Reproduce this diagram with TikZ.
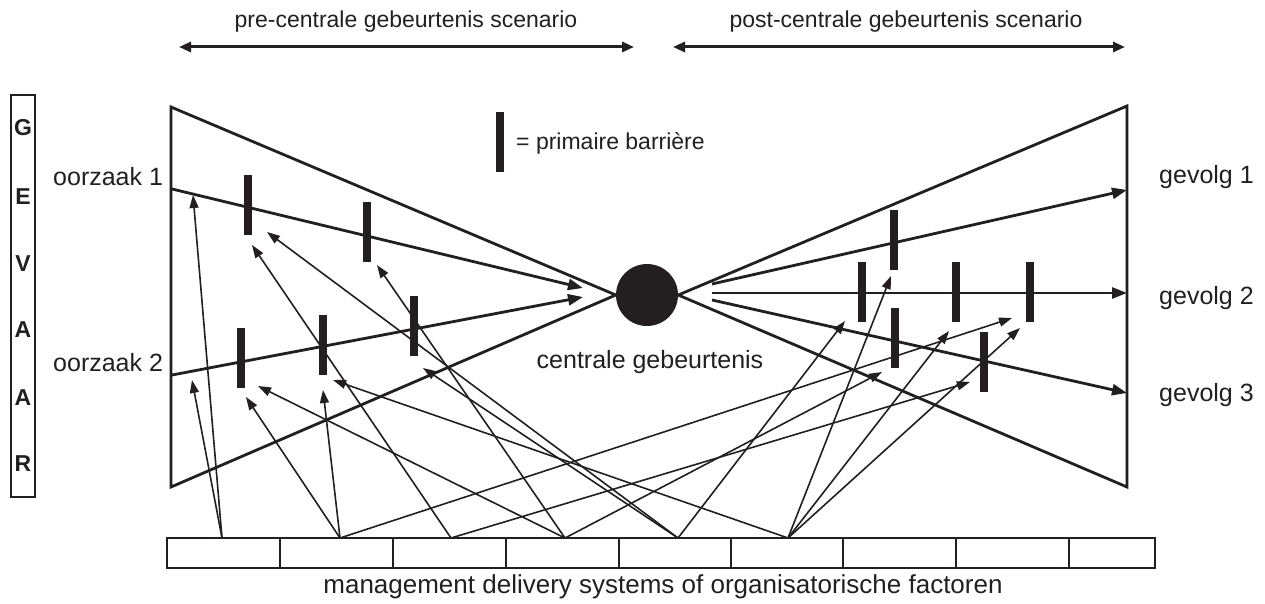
\documentclass[tikz,border=0pt]{standalone}
\usepackage{fontspec}
\setmainfont{Liberation Sans}
\usetikzlibrary{arrows.meta}
\definecolor{ink}{RGB}{35,31,32}
\begin{document}
\begin{tikzpicture}[x=1pt,y=-1pt,
  edge/.style={draw=ink,line width=2.8pt,line join=miter},
  flow/.style={draw=ink,line width=2.8pt,-{Triangle[length=15pt,width=11pt]}},
  infl/.style={draw=ink,line width=1.6pt,-{Triangle[length=13pt,width=9pt]}},
  twoway/.style={draw=ink,line width=3pt,{Triangle[length=12pt,width=10pt]}-{Triangle[length=12pt,width=10pt]}},
  barrier/.style={fill=ink,minimum width=8pt,minimum height=60pt,inner sep=0pt,outer sep=0pt},
  lbl/.style={text=ink,font=\fontsize{25}{30}\selectfont,inner sep=0pt},
  small/.style={text=ink,font=\fontsize{23}{28}\selectfont,inner sep=0pt},
  letter/.style={text=ink,font=\fontsize{23}{28}\selectfont\bfseries,inner sep=0pt},
]
\useasboundingbox (0,0) rectangle (1265,604);

% top scenario arrows
\coordinate (pa) at (179,47); \coordinate (pb) at (634,47);
\coordinate (qa) at (673,47); \coordinate (qb) at (1125,47);
\draw[twoway] (pa) -- (pb);
\draw[twoway] (qa) -- (qb);
\node[small] (pre) at (406,22) {pre-centrale gebeurtenis scenario};
\node[small] (post) at (906,22) {post-centrale gebeurtenis scenario};

% GEVAAR box
\node[draw=ink,line width=1.8pt,minimum width=24pt,minimum height=402pt,inner sep=0pt] (gev) at (23,296) {};
\node[letter] (g1) at (23,128) {G};
\node[letter] (g2) at (23,197) {E};
\node[letter] (g3) at (23,264) {V};
\node[letter] (g4) at (23,330) {A};
\node[letter] (g5) at (23,398) {A};
\node[letter] (g6) at (23,464) {R};

% central event
\node[circle,fill=ink,minimum size=62pt,inner sep=0pt] (ev) at (647,295) {};
\node[lbl] (evl) at (650,362) {centrale gebeurtenis};

% bowtie
\coordinate (L1) at (171,107); \coordinate (L2) at (171,487);
\coordinate (R1) at (1127,106); \coordinate (R2) at (1127,487);
\draw[edge] (L1) -- (ev.west) -- (L2) -- cycle;
\draw[edge] (R1) -- (ev.east) -- (R2) -- cycle;

% causes
\coordinate (o1s) at (172,189); \coordinate (o1e) at (583,288);
\coordinate (o2s) at (172,375); \coordinate (o2e) at (583,297);
\draw[flow] (o1s) -- (o1e);
\draw[flow] (o2s) -- (o2e);
\node[lbl,anchor=west] (oz1) at (53,177) {oorzaak 1};
\node[lbl,anchor=west] (oz2) at (53,363) {oorzaak 2};

% consequences
\coordinate (c1s) at (712,284); \coordinate (c1e) at (1127,190);
\coordinate (c2s) at (712,293); \coordinate (c2e) at (1127,293);
\coordinate (c3s) at (712,300); \coordinate (c3e) at (1127,393);
\draw[flow] (c1s) -- (c1e);
\draw[flow] (c2s) -- (c2e);
\draw[flow] (c3s) -- (c3e);
\node[lbl,anchor=west] (gv1) at (1159,177) {gevolg 1};
\node[lbl,anchor=west] (gv2) at (1159,298) {gevolg 2};
\node[lbl,anchor=west] (gv3) at (1159,395) {gevolg 3};

% barriers
\node[barrier] (bA) at (248,205) {};
\node[barrier] (bB) at (367,232) {};
\node[barrier] (bC) at (241,358) {};
\node[barrier] (bD) at (323,345) {};
\node[barrier] (bE) at (414,326) {};
\node[barrier] (bF) at (862,292) {};
\node[barrier] (bG) at (894,240) {};
\node[barrier] (bH) at (895,338) {};
\node[barrier] (bI) at (956,292) {};
\node[barrier] (bJ) at (1030,292) {};
\node[barrier] (bK) at (984,362) {};

% legend
\node[barrier] (bL) at (500,142) {};
\node[small,anchor=west] (leg) at (516,143) {= primaire barrière};

% management boxes
\draw[draw=ink,line width=2.8pt] (167,538) rectangle (1155,568);
\foreach \x in {280,393,506,619,731,843,956,1069}
  \draw[draw=ink,line width=1.8pt] (\x,538) -- (\x,568);
\node[text=ink,font=\fontsize{26}{31}\selectfont,inner sep=0pt] (mds) at (663,587) {management delivery systems of organisatorische factoren};

% sources
\coordinate (s1) at (222,538);
\coordinate (s2) at (340,538);
\coordinate (s3) at (451,538);
\coordinate (s4) at (565,538);
\coordinate (s5) at (678,538);
\coordinate (s6) at (788,538);

% tips
\coordinate (t1) at (193,195);
\coordinate (t2) at (192,380);
\coordinate (t3) at (252,245);
\coordinate (t4) at (267,232);
\coordinate (t5) at (377,265);
\coordinate (t6) at (246,397);
\coordinate (t7) at (258,386);
\coordinate (t8) at (323,390);
\coordinate (t9) at (333,380);
\coordinate (t10) at (423,368);
\coordinate (t11) at (845,321);
\coordinate (t12) at (891,276);
\coordinate (t13) at (882,372);
\coordinate (t14) at (949,331);
\coordinate (t15) at (1012,318);
\coordinate (t16) at (1020,328);
\coordinate (t17) at (970,382);

\draw[infl] (s1) -- (t1);
\draw[infl] (s1) -- (t2);
\draw[infl] (s2) -- (t6);
\draw[infl] (s2) -- (t8);
\draw[infl] (s2) -- (t15);
\draw[infl] (s3) -- (t3);
\draw[infl] (s3) -- (t17);
\draw[infl] (s4) -- (t5);
\draw[infl] (s4) -- (t7);
\draw[infl] (s4) -- (t13);
\draw[infl] (s5) -- (t4);
\draw[infl] (s5) -- (t10);
\draw[infl] (s5) -- (t11);
\draw[infl] (s6) -- (t9);
\draw[infl] (s6) -- (t12);
\draw[infl] (s6) -- (t14);
\draw[infl] (s6) -- (t16);
\end{tikzpicture}
\end{document}
